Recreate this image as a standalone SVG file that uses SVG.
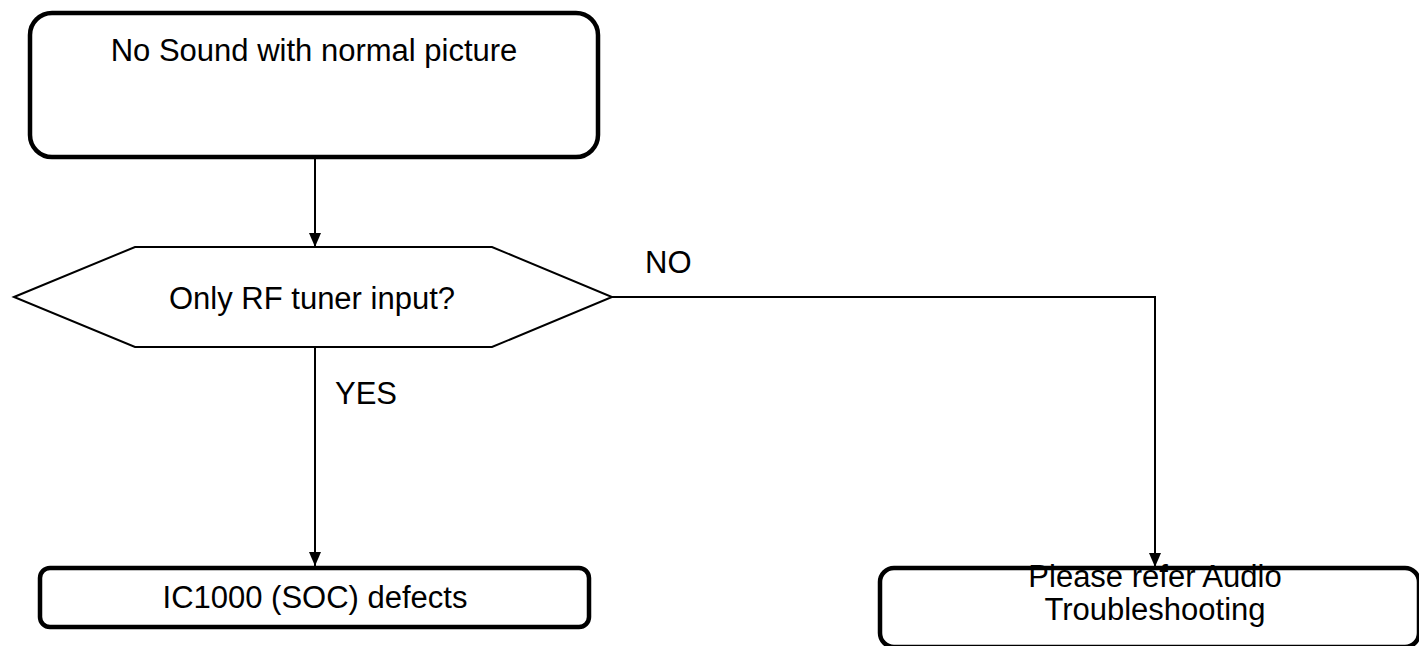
<svg xmlns="http://www.w3.org/2000/svg" width="1419" height="646" viewBox="0 0 1419 646">
<defs>
<marker id="arr" markerWidth="14" markerHeight="14" refX="14" refY="6" orient="auto" markerUnits="userSpaceOnUse">
<path d="M0,0 L14,6 L0,12 Z" fill="#000"/>
</marker>
<style>
.box{fill:#fff;stroke:#000;stroke-width:4.5}
.hex{fill:#fff;stroke:#000;stroke-width:2}
.conn{fill:none;stroke:#000;stroke-width:2}
text{font-family:"Liberation Sans",Arial,sans-serif;font-size:31px;fill:#000}
.c{text-anchor:middle}
</style>
</defs>
<rect width="1419" height="646" fill="#fff"/>
<g id="connectors">
<line class="conn" x1="315" y1="158" x2="315" y2="247" marker-end="url(#arr)"/>
<line class="conn" x1="315" y1="347" x2="315" y2="566" marker-end="url(#arr)"/>
<polyline class="conn" points="612,297 1155,297 1155,567" marker-end="url(#arr)"/>
<text x="645" y="273">NO</text>
<text x="335" y="404">YES</text>
</g>
<g id="start">
<rect class="box" x="30" y="13" width="568" height="144" rx="22"/>
<text class="c" x="314" y="61">No Sound with normal picture</text>
</g>
<g id="decision">
<polygon class="hex" points="14,297 135,247 492,247 612,297 492,347 135,347"/>
<text class="c" x="312" y="309">Only RF tuner input?</text>
</g>
<g id="soc">
<rect class="box" x="40" y="568" width="549" height="59" rx="10"/>
<text class="c" x="315" y="608">IC1000 (SOC) defects</text>
</g>
<g id="audio">
<rect class="box" x="880" y="568" width="539" height="79" rx="14"/>
<text class="c" x="1155" y="587">Please refer Audio</text>
<text class="c" x="1155" y="620">Troubleshooting</text>
</g>
</svg>
